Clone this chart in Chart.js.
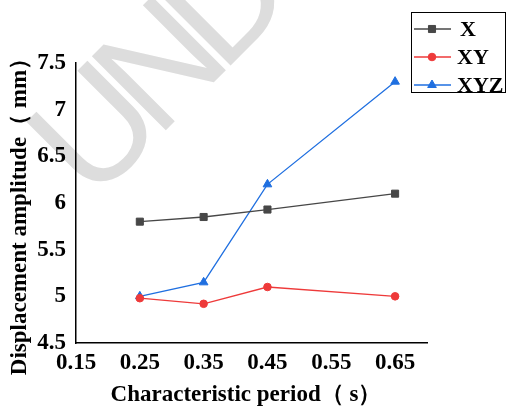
<!DOCTYPE html>
<html lang="en">
<head>
<meta charset="UTF-8">
<title>Displacement amplitude vs characteristic period</title>
<script src="https://cdn.jsdelivr.net/npm/chart.js"></script>
<style>
  html, body { margin: 0; padding: 0; background: #fff; }
  #wrap { width: 510px; height: 415px; position: relative; }
</style>
</head>
<body>
<div id="wrap"><canvas id="ampChart" width="510" height="415"></canvas></div>
<script>
    // characteristic periods (s)
    let periods = [0.25, 0.35, 0.45, 0.65];
    // displacement amplitude (mm) per excitation direction
    let ampX   = [5.80, 5.85, 5.93, 6.10];
    let ampXY  = [4.98, 4.92, 5.10, 5.00];
    let ampXYZ = [5.00, 5.15, 6.20, 7.30];
    let xTicks = [0.15, 0.25, 0.35, 0.45, 0.55, 0.65];
    let yTicks = [4.5, 5, 5.5, 6, 6.5, 7, 7.5];

    const serif = '"Liberation Serif", "Times New Roman", serif';

    function pts(vals) {
        return periods.map((p, i) => ({ x: p, y: vals[i] }));
    }

    let series = [
        { label: 'X',   data: pts(ampX),   color: '#474747', style: 'rect',     radius: 5 },
        { label: 'XY',  data: pts(ampXY),  color: '#ee3a3a', style: 'circle',   radius: 3.8 },
        { label: 'XYZ', data: pts(ampXYZ), color: '#1f6fe0', style: 'triangle', radius: 5 }
    ];

    let datasets = series.map(s => ({
        label: s.label,
        data: s.data,
        borderColor: s.color,
        backgroundColor: s.color,
        borderWidth: 1.3,
        pointStyle: s.style,
        pointRadius: s.radius,
        pointBorderWidth: 1,
        showLine: true,
        tension: 0
    }));

    // faint diagonal watermark behind everything
    let watermark = {
        id: 'watermark',
        beforeDraw(chart) {
            let ctx = chart.ctx;
            ctx.save();
            ctx.translate(92, 204);
            ctx.rotate(-Math.PI / 4);
            ctx.font = '152px "Liberation Sans", Arial, sans-serif';
            ctx.letterSpacing = '-18px';
            ctx.fillStyle = '#dddddd';
            ctx.textAlign = 'left';
            ctx.textBaseline = 'alphabetic';
            ctx.fillText('UND', 0, 0);
            ctx.restore();
        }
    };

    // axis titles and boxed legend with line + marker samples
    let decorations = {
        id: 'decorations',
        afterDraw(chart) {
            let ctx = chart.ctx;
            ctx.save();
            ctx.fillStyle = '#000';
            ctx.font = 'bold 23px ' + serif;
            ctx.textAlign = 'center';
            ctx.textBaseline = 'middle';
            ctx.fillText('Characteristic period（ s）', 246, 395);

            ctx.translate(20, 211);
            ctx.rotate(-Math.PI / 2);
            ctx.fillText('Displacement amplitude（ mm）', 0, 0);
            ctx.restore();

            // legend
            ctx.save();
            ctx.strokeStyle = '#000';
            ctx.lineWidth = 1;
            ctx.strokeRect(411.5, 12.5, 94, 80);
            let rowY = [29, 57, 85];
            chart.data.datasets.forEach((ds, i) => {
                let y = rowY[i];
                ctx.strokeStyle = ds.borderColor;
                ctx.lineWidth = 1.3;
                ctx.beginPath();
                ctx.moveTo(414, y);
                ctx.lineTo(451, y);
                ctx.stroke();
                ctx.fillStyle = ds.borderColor;
                ctx.lineWidth = 1;
                Chart.helpers.drawPoint(ctx, {
                    pointStyle: ds.pointStyle,
                    radius: ds.pointRadius,
                    borderWidth: 1
                }, 432, y);
                ctx.fillStyle = '#000';
                ctx.font = 'bold 22px ' + serif;
                ctx.textAlign = 'left';
                ctx.textBaseline = 'middle';
                ctx.fillText(ds.label, i === 0 ? 460 : 457, y + 1);
            });
            ctx.restore();
        }
    };

    let ctx = document.getElementById('ampChart').getContext('2d');
    let chart = new Chart(ctx, {
        type: 'scatter',
        data: { datasets: datasets },
        options: {
            responsive: false,
            animation: false,
            layout: { padding: { left: 0, top: 63, right: 83, bottom: 0 } },
            plugins: { legend: { display: false }, tooltip: { enabled: false } },
            scales: {
                x: {
                    type: 'linear',
                    min: 0.15,
                    max: 0.70,
                    afterBuildTicks: axis => { axis.ticks = xTicks.map(v => ({ value: v })); },
                    afterFit: axis => { axis.height = 72; },
                    grid: { display: false, drawTicks: true, tickLength: 5, tickColor: '#000', tickWidth: 1.5 },
                    border: { color: '#000', width: 1.5 },
                    ticks: {
                        color: '#000',
                        padding: 1,
                        maxRotation: 0,
                        font: { family: serif, size: 23, weight: 'bold' },
                        callback: v => v.toFixed(2)
                    }
                },
                y: {
                    min: 4.5,
                    max: 7.5,
                    afterBuildTicks: axis => { axis.ticks = yTicks.map(v => ({ value: v })); },
                    afterFit: axis => { axis.width = 76; },
                    grid: { display: false, drawTicks: true, tickLength: 5, tickColor: '#000', tickWidth: 1.5 },
                    border: { color: '#000', width: 1.5 },
                    ticks: {
                        color: '#000',
                        padding: 5,
                        font: { family: serif, size: 23, weight: 'bold' },
                        callback: v => String(v)
                    }
                }
            }
        },
        plugins: [watermark, decorations]
    });
</script>
</body>
</html>
